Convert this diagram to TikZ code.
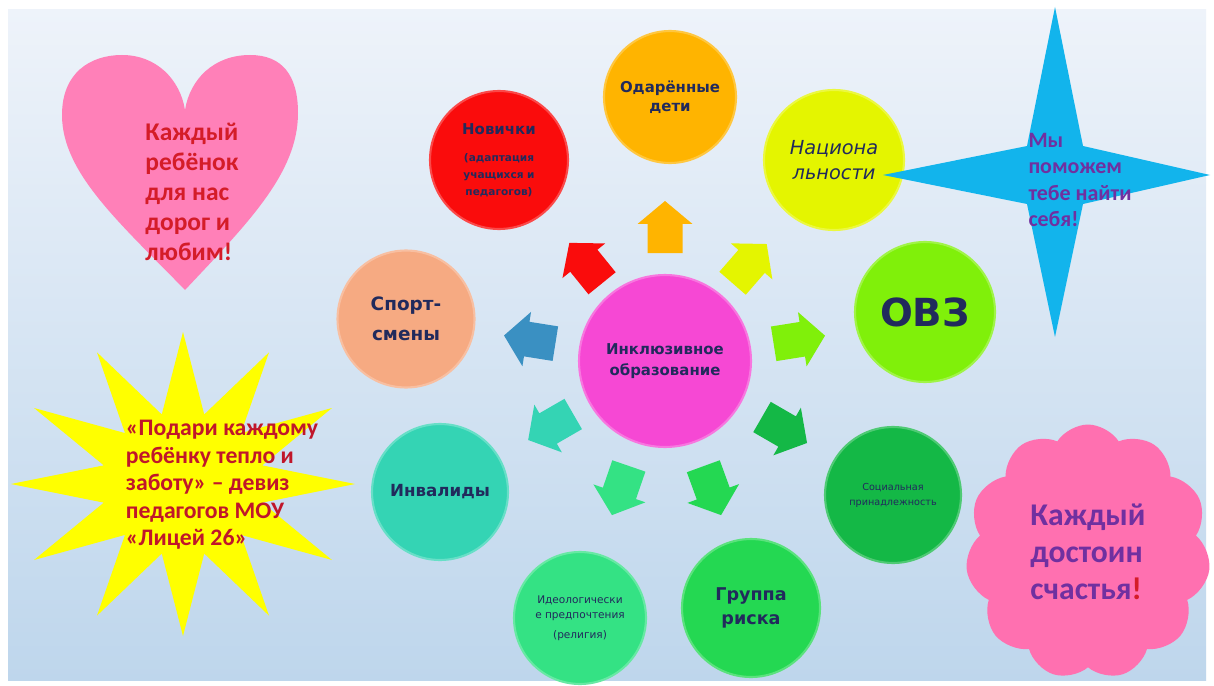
\documentclass[tikz,border=0pt]{standalone}
\usepackage{fontspec}
\setmainfont{Carlito}
\newfontfamily\dvs{DejaVu Sans}
\usetikzlibrary{shapes.symbols}

\definecolor{ink}{RGB}{33,42,92}
\definecolor{paneltop}{RGB}{238,243,250}
\definecolor{panelbot}{RGB}{190,214,236}
\definecolor{cpink}{RGB}{246,72,212}
\definecolor{cred}{RGB}{250,12,12}
\definecolor{corange}{RGB}{255,180,0}
\definecolor{cyellow}{RGB}{228,245,0}
\definecolor{clime}{RGB}{128,240,10}
\definecolor{cgreen}{RGB}{20,184,70}
\definecolor{cbright}{RGB}{36,216,82}
\definecolor{cmint}{RGB}{52,226,132}
\definecolor{cteal}{RGB}{52,212,180}
\definecolor{cpeach}{RGB}{246,170,130}
\definecolor{ablue}{RGB}{58,144,194}
\definecolor{heartpink}{RGB}{255,128,184}
\definecolor{heartred}{RGB}{212,28,40}
\definecolor{sunyellow}{RGB}{255,255,0}
\definecolor{suntext}{RGB}{192,22,42}
\definecolor{starblue}{RGB}{18,180,236}
\definecolor{purp}{RGB}{112,48,160}
\definecolor{cloudpink}{RGB}{255,112,176}

\tikzset{
    bubble/.style={circle, fill=#1, draw=#1!75!white, line width=1.2pt,
    	inner sep=0pt, align=center, text=ink}
}
\tikzset{
    pics/blockarrow/.style={code={
    	\fill[#1] (-26,-17.5) -- (3,-17.5) -- (3,-27.5) -- (26,0)
    		-- (3,27.5) -- (3,17.5) -- (-26,17.5) -- cycle;}}
}

\begin{document}
\begin{tikzpicture}[x=.02cm, y=.02cm]
  % page and panel
  \fill[white] (0,0) rectangle (1214,685);
  \shade[top color=paneltop, bottom color=panelbot] (8,5) rectangle (1206,675);

  % the bubbles
  \node (inkl) [bubble=cpink, minimum size=3.44cm,
  	font=\dvs\bfseries\fontsize{8.5}{12}\selectfont] at (665,324)
  	{Инклюзивное\\образование};
  \node (nov) [bubble=cred, minimum size=2.76cm,
  	font=\dvs\bfseries\fontsize{6}{9.5}\selectfont] at (499,525)
  	{\fontsize{8.5}{10}\selectfont Новички\\[6pt](адаптация\\учащихся и\\педагогов)};
  \node (odar) [bubble=corange, minimum size=2.64cm,
  	font=\dvs\bfseries\fontsize{8.5}{11}\selectfont] at (670,588)
  	{Одарённые\\дети};
  \node (nats) [bubble=cyellow, minimum size=2.8cm,
  	font=\dvs\itshape\fontsize{11}{14}\selectfont] at (834,525)
  	{Национа\\льности};
  \node (ovz) [bubble=clime, minimum size=2.8cm,
  	font=\dvs\bfseries\fontsize{22}{24}\selectfont] at (925,373) {ОВЗ};
  \node (soc) [bubble=cgreen, minimum size=2.72cm,
  	font=\dvs\fontsize{5.5}{8.5}\selectfont] at (893,190)
  	{Социальная\\принадлежность};
  \node (risk) [bubble=cbright, minimum size=2.76cm,
  	font=\dvs\bfseries\fontsize{10}{14}\selectfont] at (751,77)
  	{Группа\\риска};
  \node (ideo) [bubble=cmint, minimum size=2.64cm,
  	font=\dvs\fontsize{6}{9}\selectfont] at (580,67)
  	{Идеологически\\е предпочтения\\[2pt](религия)};
  \node (inval) [bubble=cteal, minimum size=2.72cm,
  	font=\dvs\bfseries\fontsize{9.5}{12}\selectfont] at (440,193) {Инвалиды};
  \node (sport) [bubble=cpeach, minimum size=2.74cm,
  	font=\dvs\bfseries\fontsize{10.5}{17}\selectfont] at (406,366)
  	{Спорт-\\смены};

  % arrows round the centre
  \pic (a1) [rotate=129] at ([shift={(129:126)}]inkl) {blockarrow=cred};
  \pic (a2) [rotate=90] at ([shift={(90:134)}]inkl) {blockarrow=corange};
  \pic (a3) [rotate=49] at ([shift={(49:129)}]inkl) {blockarrow=cyellow};
  \pic (a4) [rotate=9] at ([shift={(9:136)}]inkl) {blockarrow=clime};
  \pic (a5) [rotate=-30] at ([shift={(-30:138)}]inkl) {blockarrow=cgreen};
  \pic (a6) [rotate=-70] at ([shift={(-70:138)}]inkl) {blockarrow=cbright};
  \pic (a7) [rotate=-109] at ([shift={(-109:137)}]inkl) {blockarrow=cmint};
  \pic (a8) [rotate=-150] at ([shift={(-150:132)}]inkl) {blockarrow=cteal};
  \pic (a9) [rotate=171] at ([shift={(171:137)}]inkl) {blockarrow=ablue};

  % heart
  \fill[heartpink] (185,395) .. controls (120,462) and (62,512) .. (62,570)
  	.. controls (62,612) and (90,630) .. (122,630)
  	.. controls (156,630) and (180,606) .. (185,575)
  	.. controls (190,606) and (214,630) .. (250,630)
  	.. controls (282,630) and (298,610) .. (298,572)
  	.. controls (298,512) and (248,462) .. (185,395) -- cycle;
  \node (hearttxt) [text=heartred, align=left,
  	font=\bfseries\fontsize{14.5}{17}\selectfont] at (192,493)
  	{Каждый\\ребёнок\\для нас\\дорог и\\любим!};

  % sun star
  \fill[sunyellow, shift={(183,201)}] (0:172 and 152)
  	\foreach \a [evaluate=\a as \b using \a+15] in {0,30,...,330}
  	{ -- (\a:172 and 152) -- (\b:82 and 72) } -- cycle;
  \node (suntxt) [text=suntext, align=left,
  	font=\bfseries\fontsize{13.5}{15.6}\selectfont] at (222,200)
  	{«Подари каждому\\ребёнку тепло и\\заботу» – девиз\\педагогов МОУ\\«Лицей 26»};

  % four point star
  \fill[starblue] (1055,678) -- (1083,539) -- (1210,510) -- (1083,481)
  	-- (1055,348) -- (1027,481) -- (883,510) -- (1027,539) -- cycle;
  \node (startxt) [text=purp, align=left,
  	font=\bfseries\fontsize{12.5}{15}\selectfont] at (1080,505)
  	{Мы\\поможем\\тебе найти\\себя!};

  % cloud
  \node (cloud) [cloud, cloud puffs=11, cloud puff arc=115, fill=cloudpink,
  	minimum width=4.9cm, minimum height=5.1cm, align=left, text=purp,
  	font=\bfseries\fontsize{18}{21}\selectfont] at (1088,133)
  	{Каждый\\достоин\\счастья{\color{heartred}!}};
\end{tikzpicture}
\end{document}
